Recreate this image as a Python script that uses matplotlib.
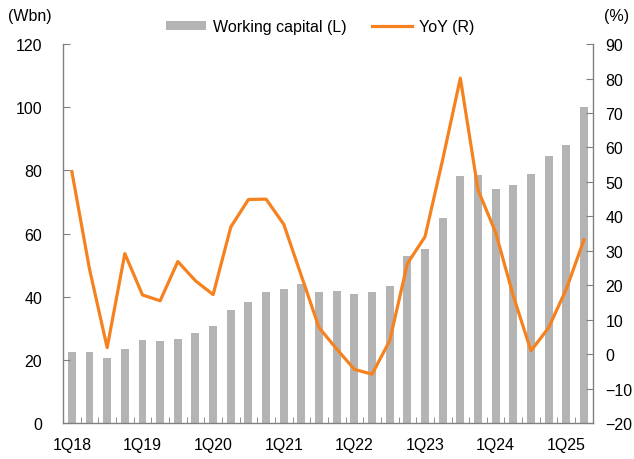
import numpy as np
import matplotlib.pyplot as plt
from matplotlib.lines import Line2D
from matplotlib.patches import Patch

plt.rcParams['font.family'] = ['Liberation Sans', 'DejaVu Sans']

# Quarterly data, 1Q18 - 2Q25
quarters = [f"{q}Q{y}" for y in range(18, 26) for q in range(1, 5)][:30]
working_capital = [22.5, 22.5, 20.7, 23.4, 26.3, 26.0, 26.5, 28.5,
                   30.9, 35.7, 38.5, 41.5, 42.6, 44.0, 41.6, 41.9,
                   40.8, 41.6, 43.5, 53.0, 55.0, 64.9, 78.2, 78.6,
                   74.0, 75.3, 79.0, 84.5, 88.1, 100.0]
yoy = [53.0, 24.7, 1.9, 29.2, 17.2, 15.5, 26.9, 21.3,
       17.3, 36.9, 44.9, 45.0, 37.7, 22.7, 7.7, 1.5,
       -4.4, -5.8, 3.9, 26.3, 34.1, 56.5, 80.1, 47.7,
       35.3, 16.9, 1.0, 7.7, 18.9, 33.2]
tick_labels = ["1Q18", "1Q19", "1Q20", "1Q21", "1Q22", "1Q23", "1Q24", "1Q25"]

bar_color = "#B4B4B4"
line_color = "#F5821F"
axis_color = "#808080"
fs = 11.5

fig = plt.figure(figsize=(6.34, 4.6), dpi=100)
ax = fig.add_axes([0.0994, 0.078, 0.8356, 0.824])
ax2 = ax.twinx()

x = np.arange(len(quarters))
ax.bar(x, working_capital, width=0.45, color=bar_color)
ax2.plot(x, yoy, color=line_color, linewidth=2.3)

ax.set_xlim(-0.5, len(quarters) - 0.5)
ax.set_ylim(0, 120)
ax.set_yticks(range(0, 121, 20))
ax2.set_ylim(-20, 90)
ax2.set_yticks(range(-20, 91, 10))

# x ticks: labels every year, small marks between bars
ax.set_xticks([quarters.index(t) for t in tick_labels])
ax.set_xticklabels(tick_labels)
ax.set_xticks(np.arange(-0.5, len(quarters), 1), minor=True)
ax.tick_params(axis='x', which='major', length=0, pad=10, labelsize=fs)
ax.tick_params(axis='x', which='minor', direction='in', length=4, color=axis_color)
ax.tick_params(axis='y', direction='in', length=5, color=axis_color, pad=15, labelsize=fs)
ax2.tick_params(axis='y', direction='in', length=5, color=axis_color, pad=9, labelsize=fs)

for a in (ax, ax2):
    a.spines['top'].set_visible(False)
    for s in ('left', 'right', 'bottom'):
        a.spines[s].set_color(axis_color)
        a.spines[s].set_linewidth(1.0)
ax.spines['right'].set_visible(False)
ax2.spines['left'].set_visible(False)
ax2.spines['bottom'].set_visible(False)

fig.text(0.012, 0.965, "(Wbn)", fontsize=fs, va='center', ha='left')
fig.text(0.953, 0.965, "(%)", fontsize=fs, va='center', ha='left')

handles = [Patch(facecolor=bar_color, edgecolor='none'),
           Line2D([0], [0], color=line_color, linewidth=2.3)]
fig.legend(handles, ["Working capital (L)", "YoY (R)"], loc='center',
           bbox_to_anchor=(0.505, 0.94), ncol=2, frameon=False, fontsize=fs,
           handlelength=2.5, handleheight=0.5, columnspacing=1.6, handletextpad=0.45)

fig.savefig("out.png", dpi=100)
